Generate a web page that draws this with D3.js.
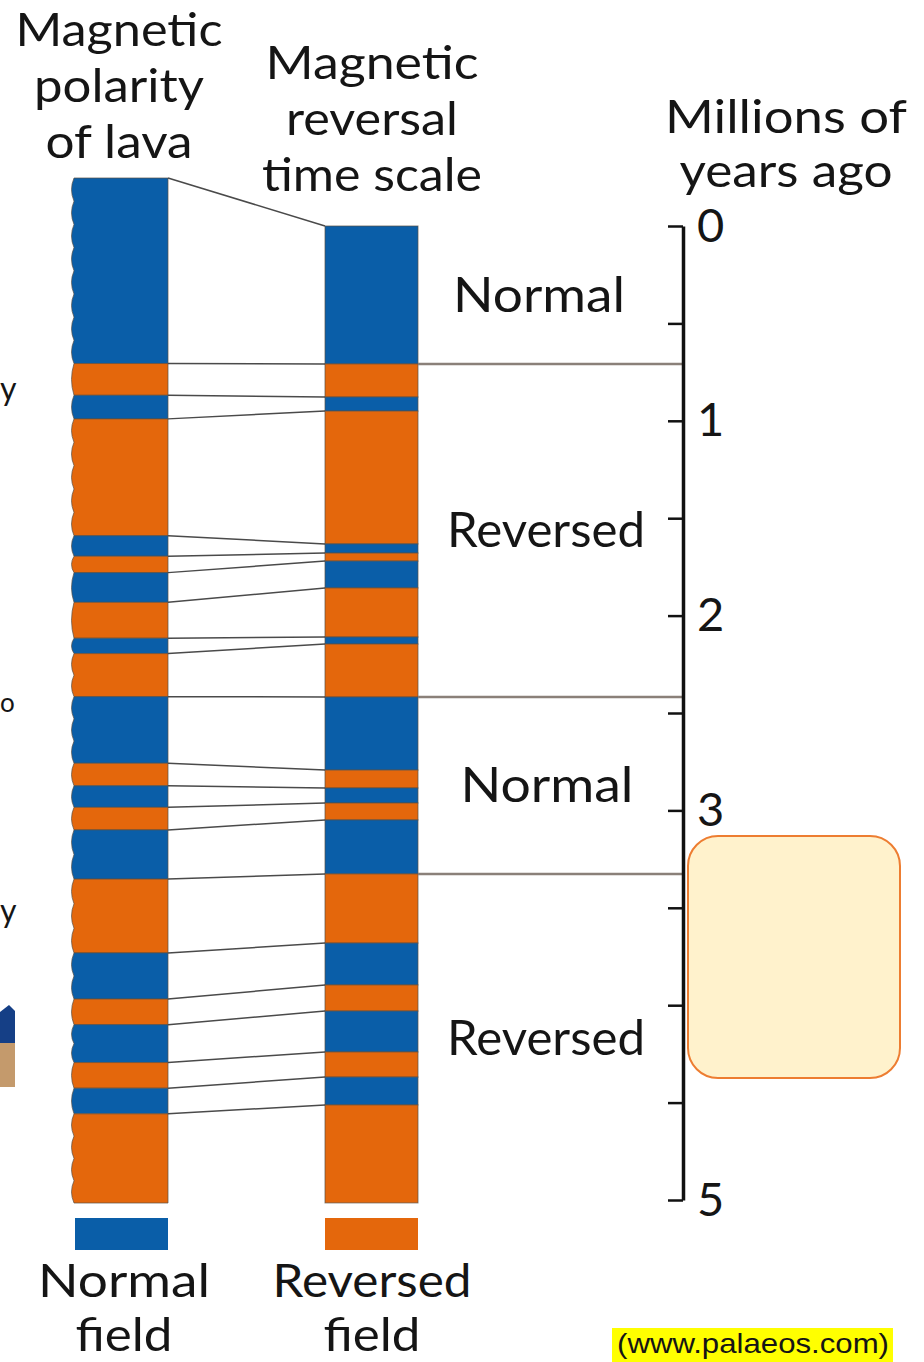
<!DOCTYPE html>
<html>
<head>
<meta charset="utf-8">
<script src="https://cdn.jsdelivr.net/npm/d3@7/dist/d3.min.js"></script>
<style>
  html, body { margin: 0; padding: 0; background: #fff; }
  svg { display: block; }
  text { font-family: Lato, "Open Sans", sans-serif; fill: #151515; }
</style>
</head>
<body>
<script>
// ---- data ----
const polarity = ["Normal", "Reversed"]; // alternating, starting Normal at the top
// Boundaries of the lava flows (relative depth in the lava stack, 0 = top, 100 = bottom)
const lavaBounds = [0, 18.1, 21.2, 23.5, 34.9, 36.9, 38.5, 41.4, 44.9, 46.4, 50.6,
                    57.1, 59.3, 61.4, 63.6, 68.4, 75.6, 80.1, 82.6, 86.3, 88.8, 91.3, 100];
// Boundaries of the magnetic reversal time scale (millions of years ago)
const timeBounds = [0, 0.708, 0.878, 0.950, 1.632, 1.679, 1.720, 1.858, 2.110, 2.146, 2.418,
                    2.793, 2.885, 2.962, 3.049, 3.326, 3.681, 3.896, 4.030, 4.240, 4.369, 4.512, 5.015];
// Major epochs
const epochNames = ["Normal", "Reversed", "Normal", "Reversed"];
const epochStart = [0, 0.708, 2.418, 3.326];
const epochEnd   = [0.708, 2.418, 3.326, 5.015];
// Axis
const tickValues = [0, 0.5, 1, 1.5, 2, 2.5, 3, 3.5, 4, 4.5, 5];
const tickLabels = ["0", "", "1", "", "2", "", "3", "", "4", "", "5"];
// Titles
const titleLava = ["Magnetic", "polarity", "of lava"];
const titleScale = ["Magnetic", "reversal", "time scale"];
const titleAxis = ["Millions of", "years ago"];
const legendNames = [["Normal", "field"], ["Reversed", "field"]];
const sourceText = "(www.palaeos.com)";
const strayLetters = ["y", "o", "y"];

// ---- drawing ----
const W = 924, H = 1362;
const colors = { Normal: "#0a5ea8", Reversed: "#e4670c" };
const svg = d3.select("body").append("svg").attr("width", W).attr("height", H);

const yTime = d3.scaleLinear().domain([0, 5]).range([226, 1200]);
const yLava = d3.scaleLinear().domain([0, 100]).range([178, 1203]);

const lavaX0 = 74, lavaX1 = 168;
const tsX0 = 325, tsX1 = 418;
const axisX = 683;

// stray pieces of a neighbouring figure at the left edge
const strayY = [400, 712, 922];
const straySize = [32, 26, 32];
svg.append("g").selectAll("text").data(strayLetters).join("text")
  .attr("x", 0).attr("y", (d, i) => strayY[i]).attr("font-size", (d, i) => straySize[i])
  .text(d => d);
svg.append("path").attr("d", "M0,1012L9,1005L15,1011L15,1043L0,1043Z").attr("fill", "#153f86");
svg.append("rect").attr("x", 0).attr("y", 1043).attr("width", 15).attr("height", 44).attr("fill", "#c49a6c");

// lava bands
const lavaBands = d3.range(lavaBounds.length - 1).map(i => ({
  pol: polarity[i % 2], t: lavaBounds[i], b: lavaBounds[i + 1]
}));
function lavaPath(d) {
  const y0 = yLava(d.t), y1 = yLava(d.b);
  const n = Math.max(1, Math.round((y1 - y0) / 24));
  const step = (y1 - y0) / n;
  let p = `M${lavaX1},${y0}L${lavaX0},${y0}`;
  for (let k = 0; k < n; k++) {
    const ya = y0 + k * step, yb = ya + step;
    p += `Q${lavaX0 - 5},${(ya + yb) / 2} ${lavaX0},${yb}`;
  }
  p += `L${lavaX1},${y1}Z`;
  return p;
}
svg.append("g").selectAll("path").data(lavaBands).join("path")
  .attr("d", lavaPath)
  .attr("fill", d => colors[d.pol])
  .attr("stroke", "#5a5046").attr("stroke-width", 1).attr("stroke-opacity", 0.7);

// time scale bands
const tsBands = d3.range(timeBounds.length - 1).map(i => ({
  pol: polarity[i % 2], t: timeBounds[i], b: timeBounds[i + 1]
}));
svg.append("g").selectAll("rect").data(tsBands).join("rect")
  .attr("x", tsX0).attr("width", tsX1 - tsX0)
  .attr("y", d => yTime(d.t)).attr("height", d => yTime(d.b) - yTime(d.t))
  .attr("fill", d => colors[d.pol])
  .attr("stroke", "#5a5046").attr("stroke-width", 1).attr("stroke-opacity", 0.7);

// correlation lines
svg.append("g").selectAll("line").data(d3.range(lavaBounds.length - 1)).join("line")
  .attr("x1", lavaX1).attr("y1", i => yLava(lavaBounds[i]))
  .attr("x2", tsX0).attr("y2", i => yTime(timeBounds[i]))
  .attr("stroke", "#4a4a4a").attr("stroke-width", 1.5);

// epoch boundary lines to the axis
svg.append("g").selectAll("line").data(epochStart.slice(1)).join("line")
  .attr("x1", tsX1).attr("x2", axisX)
  .attr("y1", d => yTime(d)).attr("y2", d => yTime(d))
  .attr("stroke", "#8a8079").attr("stroke-width", 2.5);

// epoch labels
const epochX = [539, 546, 547, 546];
const epochW = [172, 198, 173, 198];
svg.append("g").selectAll("text").data(epochNames).join("text")
  .attr("x", (d, i) => epochX[i])
  .attr("y", (d, i) => yTime((epochStart[i] + epochEnd[i]) / 2))
  .attr("dy", "0.35em")
  .attr("text-anchor", "middle").attr("font-size", 48)
  .attr("textLength", (d, i) => epochW[i]).attr("lengthAdjust", "spacingAndGlyphs")
  .text(d => d);

// axis
const axis = d3.axisRight(yTime)
  .tickValues(tickValues)
  .tickSizeInner(-15).tickSizeOuter(0).tickPadding(14)
  .tickFormat((d, i) => tickLabels[i]);
const ag = svg.append("g").attr("transform", `translate(${axisX},0)`).call(axis);
ag.select(".domain").attr("stroke", "#111").attr("stroke-width", 3.5);
ag.selectAll(".tick line").attr("stroke", "#111").attr("stroke-width", 2.5);
ag.selectAll(".tick text").attr("font-size", 47).attr("fill", "#151515")
  .attr("font-family", "Lato, sans-serif");

// titles
function block(lines, cx, y0, lh, fs, widths) {
  svg.append("g").selectAll("text").data(lines).join("text")
    .attr("x", cx).attr("y", (d, i) => y0 + i * lh)
    .attr("text-anchor", "middle").attr("font-size", fs)
    .attr("textLength", (d, i) => widths[i]).attr("lengthAdjust", "spacingAndGlyphs")
    .text(d => d);
}
block(titleLava, 119, 46, 56, 46, [207, 170, 147]);
block(titleScale, 372, 79, 56, 46, [213, 172, 220]);
block(titleAxis, 786, 133, 54, 46, [242, 213]);

// note box
svg.append("rect").attr("x", 688).attr("y", 836).attr("width", 212).attr("height", 242)
  .attr("rx", 30).attr("fill", "#fff2cc").attr("stroke", "#ed7d31").attr("stroke-width", 2);

// legend
const legX = [lavaX0 + 1, tsX0];
svg.append("g").selectAll("rect").data(polarity).join("rect")
  .attr("x", (d, i) => legX[i]).attr("y", 1218)
  .attr("width", (d, i) => i === 0 ? lavaX1 - lavaX0 - 1 : tsX1 - tsX0).attr("height", 32)
  .attr("fill", d => colors[d]);
block(legendNames[0], 124, 1297, 54, 46, [172, 97]);
block(legendNames[1], 372, 1297, 54, 46, [199, 97]);

// source
svg.append("rect").attr("x", 612).attr("y", 1328).attr("width", 281).attr("height", 34).attr("fill", "#ffff00");
svg.append("text").attr("x", 617).attr("y", 1353)
  .style("font-family", "'Liberation Sans', Arial, sans-serif").attr("font-size", 28)
  .attr("textLength", 272).attr("lengthAdjust", "spacingAndGlyphs")
  .attr("fill", "#000").text(sourceText);
</script>
</body>
</html>
